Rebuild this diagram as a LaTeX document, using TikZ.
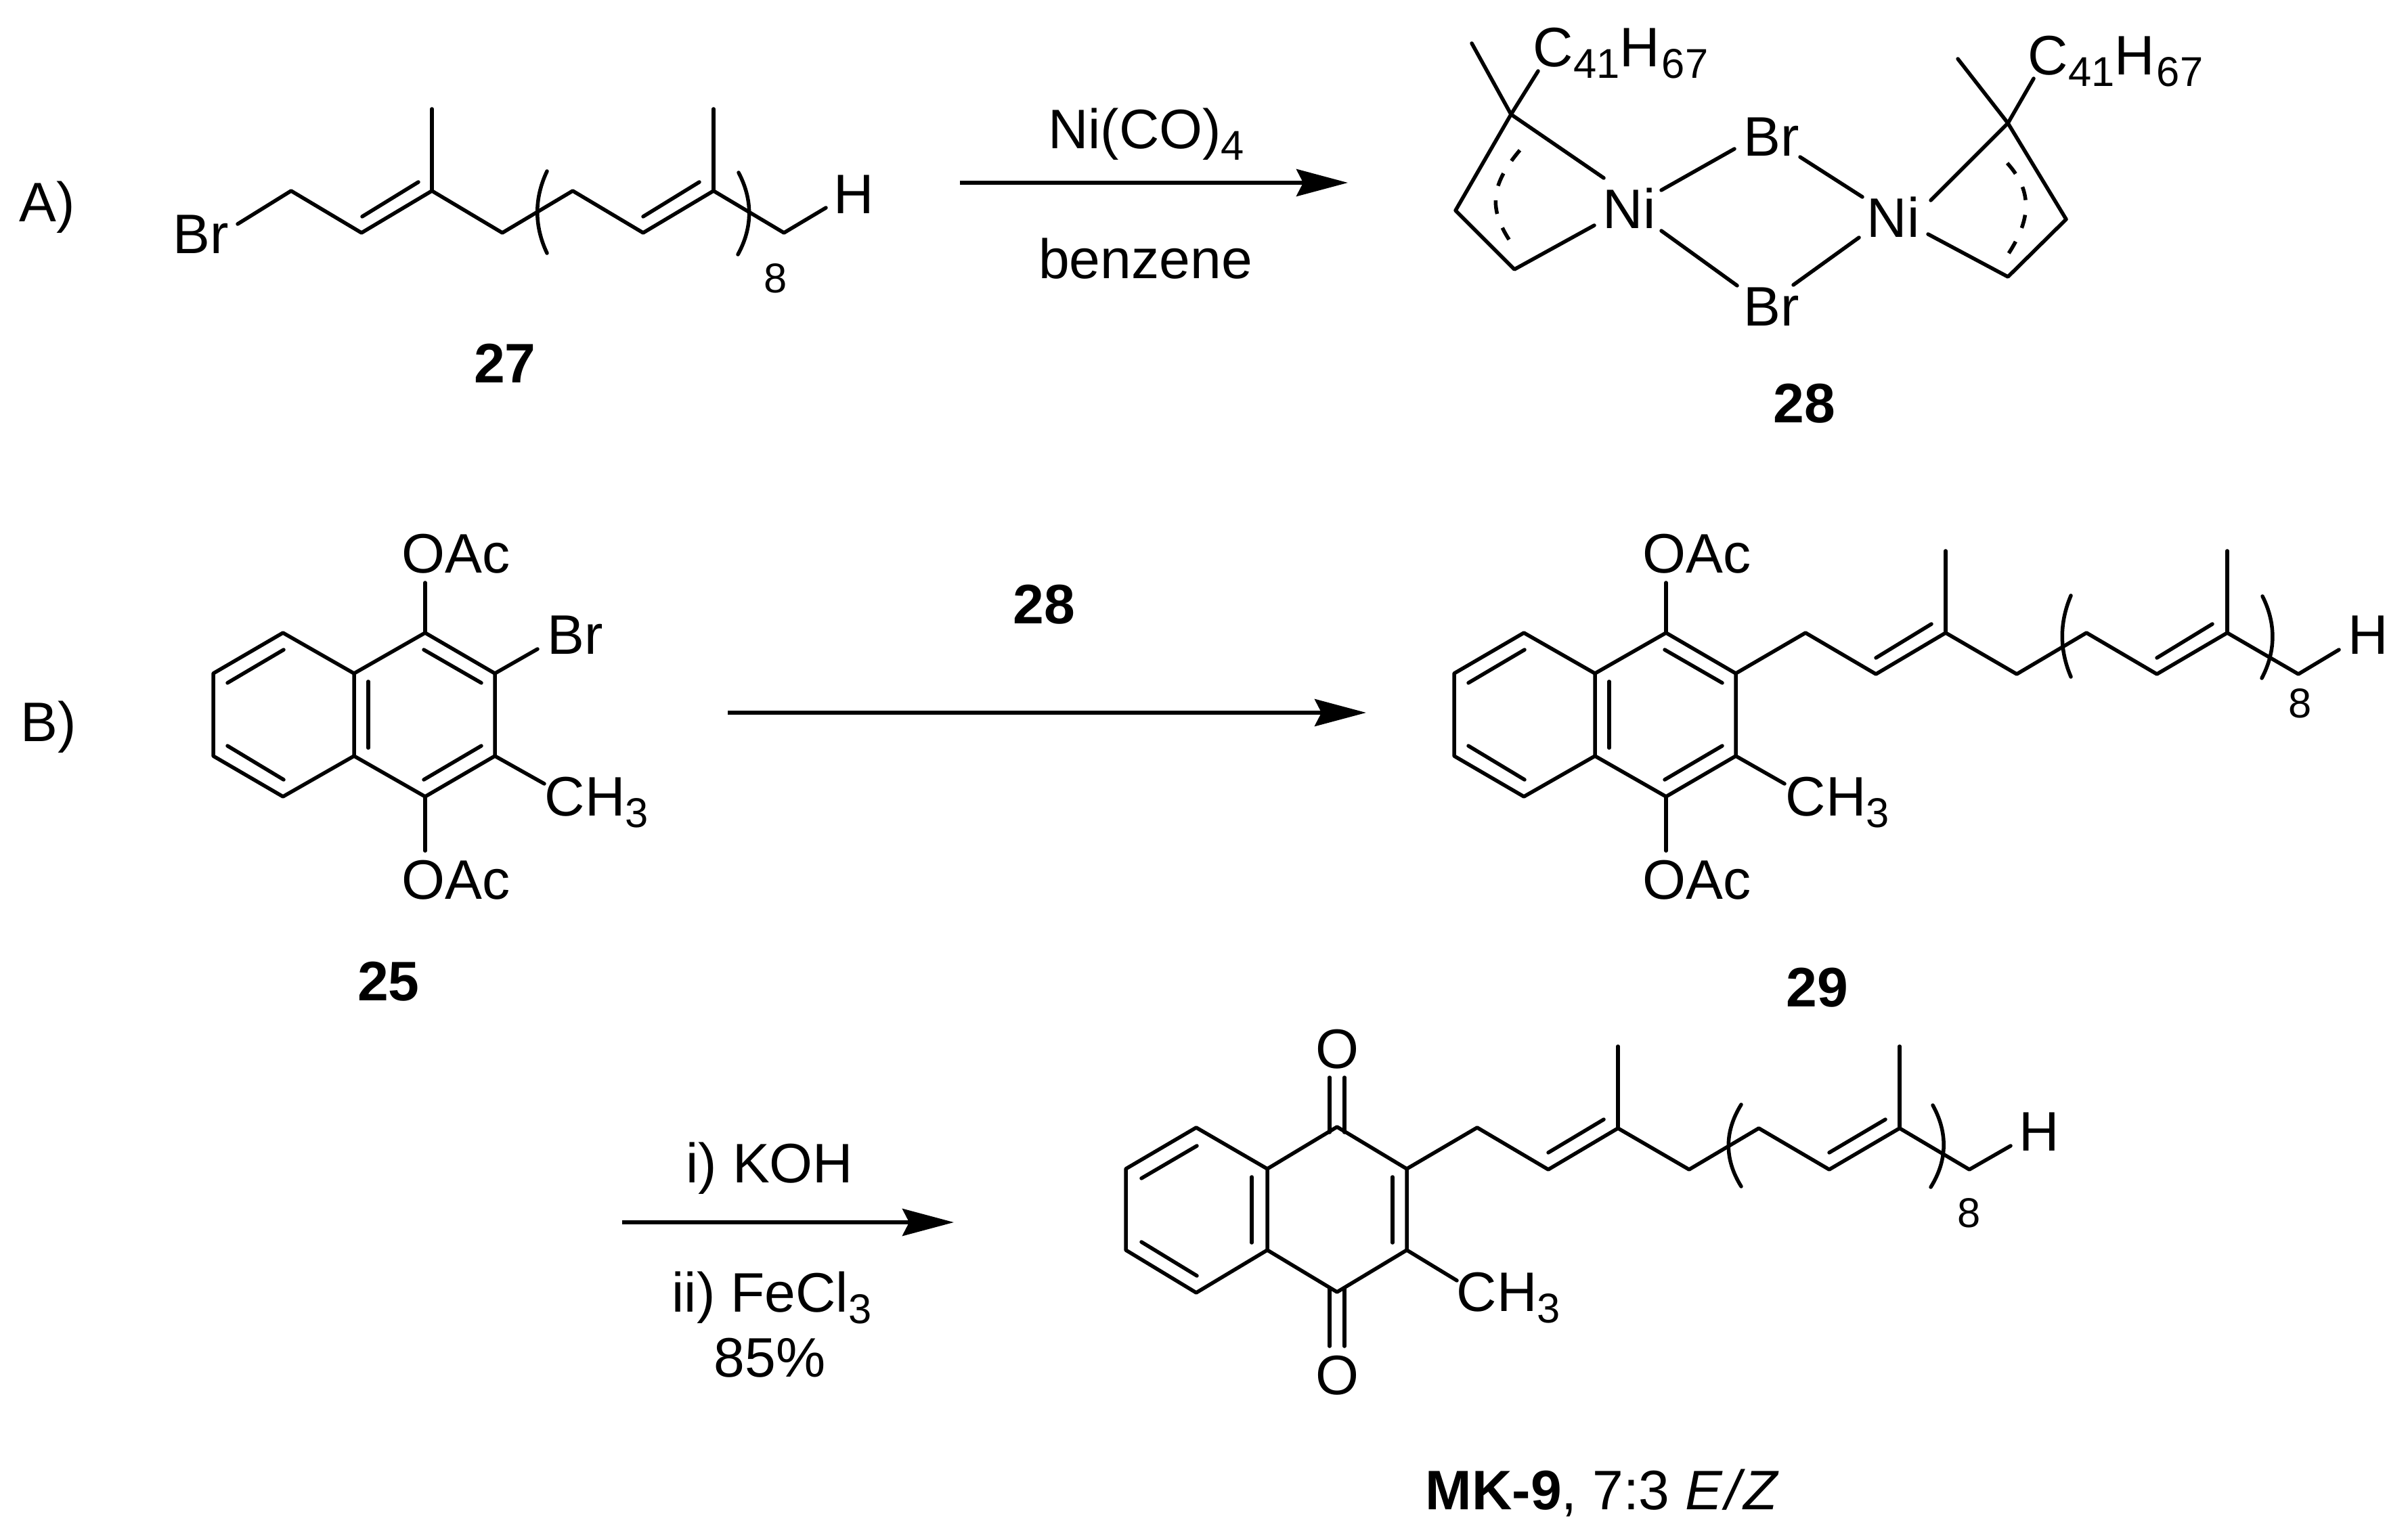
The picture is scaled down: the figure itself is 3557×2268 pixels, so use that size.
\documentclass[tikz,border=0pt]{standalone}
\usepackage{fontspec}
\setmainfont{Liberation Sans}
\usetikzlibrary{arrows.meta}
\newcommand{\chemsub}[1]{\raisebox{-1.7mm}{\fontsize{17.5}{20}\selectfont #1}}
\tikzset{
    bond/.style={line width=0.55mm, line cap=round, line join=round},
    rxn/.style={line width=0.6mm, -{Stealth[length=7.6mm, width=4mm, inset=1mm]}},
    delocal/.style={line width=0.55mm, dash pattern=on 2mm off 2.2mm},
    atom/.style={font=\fontsize{23.4}{27}\selectfont, inner sep=0pt, anchor=base west},
    reagent/.style={font=\fontsize{23.4}{27}\selectfont, inner sep=0pt, anchor=base},
    compound/.style={font=\fontsize{23.4}{27}\selectfont\bfseries, inner sep=0pt, anchor=base},
    repeatcount/.style={font=\fontsize{17.5}{20}\selectfont, inner sep=0pt, anchor=base}
}
\begin{document}
\begin{tikzpicture}[x=0.1mm, y=-0.1mm]
    \useasboundingbox (0,0) rectangle (3557,2268);

    % Row labels
    \node[atom] (rowA) at (28,328) {A)};
    \node[atom] (rowB) at (30,1095) {B)};

    % Bromide 27
    \foreach \n/\x/\y in {s0/351/331, s1/430/282, s2/534/344, s3/638/282, s4/742/344, s5/846/282,
        s6/950/344, s7/1054/282, s8/1158/344, s9/1220/307, sa/638/161, sb/1054/161,
        sc/535/320, sd/618/269, se/950/320, sf/1033/269} \coordinate (\n) at (\x,\y);
    \draw[bond] (s0) -- (s1) -- (s2) -- (s3) -- (s4) -- (s5) -- (s6) -- (s7) -- (s8) -- (s9);
    \draw[bond] (s3) -- (sa);
    \draw[bond] (s7) -- (sb);
    \draw[bond] (sc) -- (sd);
    \draw[bond] (se) -- (sf);
    \draw[bond] (808,253) .. controls (789,293) and (789,334) .. (808,374);
    \draw[bond] (1091,255) .. controls (1112,295) and (1112,336) .. (1090,376);
    \node[atom] (brS) at (255,375) {Br};
    \node[atom] (hS) at (1231,316) {H};
    \node[repeatcount] (nS) at (1146,433) {8};
    \node[compound] (cpd27) at (746,566) {27};

    % Arrow A
    \coordinate (arrA0) at (1418,270);
    \coordinate (arrA1) at (1991,270);
    \draw[rxn] (arrA0) -- (arrA1);
    \node[reagent] (niCO) at (1693,220) {Ni(CO)\chemsub{4}};
    \node[reagent] (benz) at (1692,412) {benzene};

    % Nickel complex 28
    \foreach \n/\x/\y in {l0/2174/64, l1/2232/169, l2/2272/105, l3/2369/263, l4/2150/311, l5/2237/398, l6/2355/333,
        r0/2892/87, r1/2966/182, r2/3004/116, r3/2852/296, r4/3052/324, r5/2966/409, r6/2848/346,
        q1/2454/281, q2/2562/220, q3/2659/232, q4/2751/291,
        q5/2454/341, q6/2566/422, q7/2649/421, q8/2746/351} \coordinate (\n) at (\x,\y);
    \draw[bond] (l0) -- (l1) -- (l4) -- (l5) -- (l6);
    \draw[bond] (l2) -- (l1) -- (l3);
    \draw[bond] (r0) -- (r1) -- (r4) -- (r5) -- (r6);
    \draw[bond] (r2) -- (r1) -- (r3);
    \draw[bond] (q1) -- (q2);
    \draw[bond] (q3) -- (q4);
    \draw[bond] (q5) -- (q6);
    \draw[bond] (q7) -- (q8);
    \draw[delocal] (2245,222) .. controls (2200,275) and (2200,310) .. (2231,357);
    \draw[delocal] (2965,241) .. controls (3000,280) and (3003,320) .. (2966,376);
    \node[atom] (cL) at (2264,99) {C\chemsub{41}H\kern0.3mm\chemsub{67}};
    \node[atom] (cR) at (2995,111) {C\chemsub{41}H\kern0.3mm\chemsub{67}};
    \node[atom] (niL) at (2367,338) {Ni};
    \node[atom] (niR) at (2757,351) {Ni};
    \node[atom] (brT) at (2575,231) {Br};
    \node[atom] (brB) at (2575,482) {Br};
    \node[compound] (cpd28) at (2665,625) {28};

    % Naphthalene 25
    \foreach \n/\x/\y in {n1/418/935, n2/315/995, n3/315/1117, n4/418/1177, n5/523/1117, n6/523/995,
        n7/628/935, n8/731/995, n9/731/1117, n10/628/1177,
        i1/419/960, i2/336/1009, i3/419/1152, i4/336/1102, i5/544/1007, i6/544/1105,
        i7/626/960, i8/711/1009, i9/626/1152, i10/711/1102,
        o1/628/861, o2/628/1257, o3/794/959, o4/804/1158} \coordinate (\n) at (\x,\y);
    \draw[bond] (n1) -- (n2) -- (n3) -- (n4) -- (n5) -- (n6) -- cycle;
    \draw[bond] (n6) -- (n7) -- (n8) -- (n9) -- (n10) -- (n5);
    \draw[bond] (i1) -- (i2);
    \draw[bond] (i3) -- (i4);
    \draw[bond] (i5) -- (i6);
    \draw[bond] (i7) -- (i8);
    \draw[bond] (i9) -- (i10);
    \draw[bond] (n7) -- (o1);
    \draw[bond] (n10) -- (o2);
    \draw[bond] (n8) -- (o3);
    \draw[bond] (n9) -- (o4);
    \node[atom] (oacT) at (593,847) {OAc};
    \node[atom] (oacB) at (593,1328) {OAc};
    \node[atom] (brN) at (808,967) {Br};
    \node[atom] (meN) at (804,1205) {CH\chemsub{3}};
    \node[compound] (cpd25) at (574,1478) {25};

    % Arrow B
    \coordinate (arrB0) at (1075,1053);
    \coordinate (arrB1) at (2018,1053);
    \draw[rxn] (arrB0) -- (arrB1);
    \node[compound] (cpd28b) at (1542,922) {28};

    % Coupled product 29
    \foreach \n/\x/\y in {p1/2251/935, p2/2148/995, p3/2148/1117, p4/2251/1177, p5/2356/1117, p6/2356/995,
        p7/2461/935, p8/2564/995, p9/2564/1117, p10/2461/1177,
        j1/2252/960, j2/2169/1009, j3/2252/1152, j4/2169/1102, j5/2377/1007, j6/2377/1105,
        j7/2459/960, j8/2544/1009, j9/2459/1152, j10/2544/1102,
        w1/2461/861, w2/2461/1257, w3/2636/1158,
        c1/2667/935, c2/2771/996, c3/2874/935, c4/2979/996, c5/3082/935, c6/3186/996, c7/3290/935, c8/3395/996, c9/3455/960,
        ca/2874/814, cb/3290/814, cc/2771/972, cd/2853/922, ce/3186/972, cf/3268/922} \coordinate (\n) at (\x,\y);
    \draw[bond] (p1) -- (p2) -- (p3) -- (p4) -- (p5) -- (p6) -- cycle;
    \draw[bond] (p6) -- (p7) -- (p8) -- (p9) -- (p10) -- (p5);
    \draw[bond] (j1) -- (j2);
    \draw[bond] (j3) -- (j4);
    \draw[bond] (j5) -- (j6);
    \draw[bond] (j7) -- (j8);
    \draw[bond] (j9) -- (j10);
    \draw[bond] (p7) -- (w1);
    \draw[bond] (p10) -- (w2);
    \draw[bond] (p9) -- (w3);
    \draw[bond] (p8) -- (c1) -- (c2) -- (c3) -- (c4) -- (c5) -- (c6) -- (c7) -- (c8) -- (c9);
    \draw[bond] (c3) -- (ca);
    \draw[bond] (c7) -- (cb);
    \draw[bond] (cc) -- (cd);
    \draw[bond] (ce) -- (cf);
    \draw[bond] (3059,880) .. controls (3042,920) and (3042,960) .. (3059,1000);
    \draw[bond] (3342,881) .. controls (3362,921) and (3362,962) .. (3341,1002);
    \node[atom] (oacT2) at (2426,847) {OAc};
    \node[atom] (oacB2) at (2426,1328) {OAc};
    \node[atom] (meP) at (2637,1205) {CH\chemsub{3}};
    \node[atom] (hP) at (3468,967) {H};
    \node[repeatcount] (nP) at (3398,1060) {8};
    \node[compound] (cpd29) at (2684,1487) {29};

    % Arrow C
    \coordinate (arrC0) at (919,1806);
    \coordinate (arrC1) at (1409,1806);
    \draw[rxn] (arrC0) -- (arrC1);
    \node[reagent] (koh) at (1137,1747) {i) KOH};
    \node[reagent] (fecl) at (1140,1938) {ii) FeCl\chemsub{3}};
    \node[reagent] (yield) at (1137,2034) {85\%};

    % Quinone MK-9
    \foreach \n/\x/\y in {m1/1767/1666, m2/1663/1727, m3/1663/1847, m4/1767/1910, m5/1872/1847, m6/1872/1727,
        m7/1975/1665, m8/2078/1727, m9/2078/1847, m10/1975/1909,
        k1/1768/1693, k2/1686/1741, k3/1768/1885, k4/1686/1835, k5/1849/1739, k6/1849/1836, k7/2057/1739, k8/2057/1836,
        k9/1964/1673, k10/1964/1592, k11/1986/1673, k12/1986/1592,
        k13/1964/1903, k14/1964/1989, k15/1986/1903, k16/1986/1989, k17/2152/1892,
        t1/2182/1666, t2/2287/1728, t3/2390/1667, t4/2495/1728, t5/2598/1667, t6/2702/1728, t7/2806/1667, t8/2909/1728, t9/2970/1693,
        ta/2390/1546, tb/2806/1546, tc/2287/1703, td/2369/1654, te/2702/1703, tf/2785/1654} \coordinate (\n) at (\x,\y);
    \draw[bond] (m1) -- (m2) -- (m3) -- (m4) -- (m5) -- (m6) -- cycle;
    \draw[bond] (m6) -- (m7) -- (m8) -- (m9) -- (m10) -- (m5);
    \draw[bond] (k1) -- (k2);
    \draw[bond] (k3) -- (k4);
    \draw[bond] (k5) -- (k6);
    \draw[bond] (k7) -- (k8);
    \draw[bond] (k9) -- (k10);
    \draw[bond] (k11) -- (k12);
    \draw[bond] (k13) -- (k14);
    \draw[bond] (k15) -- (k16);
    \draw[bond] (m9) -- (k17);
    \draw[bond] (m8) -- (t1) -- (t2) -- (t3) -- (t4) -- (t5) -- (t6) -- (t7) -- (t8) -- (t9);
    \draw[bond] (t3) -- (ta);
    \draw[bond] (t7) -- (tb);
    \draw[bond] (tc) -- (td);
    \draw[bond] (te) -- (tf);
    \draw[bond] (2572,1632) .. controls (2547,1672) and (2547,1713) .. (2572,1753);
    \draw[bond] (2855,1633) .. controls (2877,1673) and (2877,1714) .. (2852,1754);
    \node[reagent] (oTop) at (1975,1578) {O};
    \node[reagent] (oBot) at (1975,2060) {O};
    \node[atom] (meM) at (2151,1937) {CH\chemsub{3}};
    \node[atom] (hM) at (2982,1700) {H};
    \node[repeatcount] (nM) at (2909,1813) {8};
    \node[atom] (mk9) at (2105,2230) {\textbf{MK-9}, 7:3 \textit{E\kern0.4mm/\kern0.4mm Z}};
\end{tikzpicture}
\end{document}
